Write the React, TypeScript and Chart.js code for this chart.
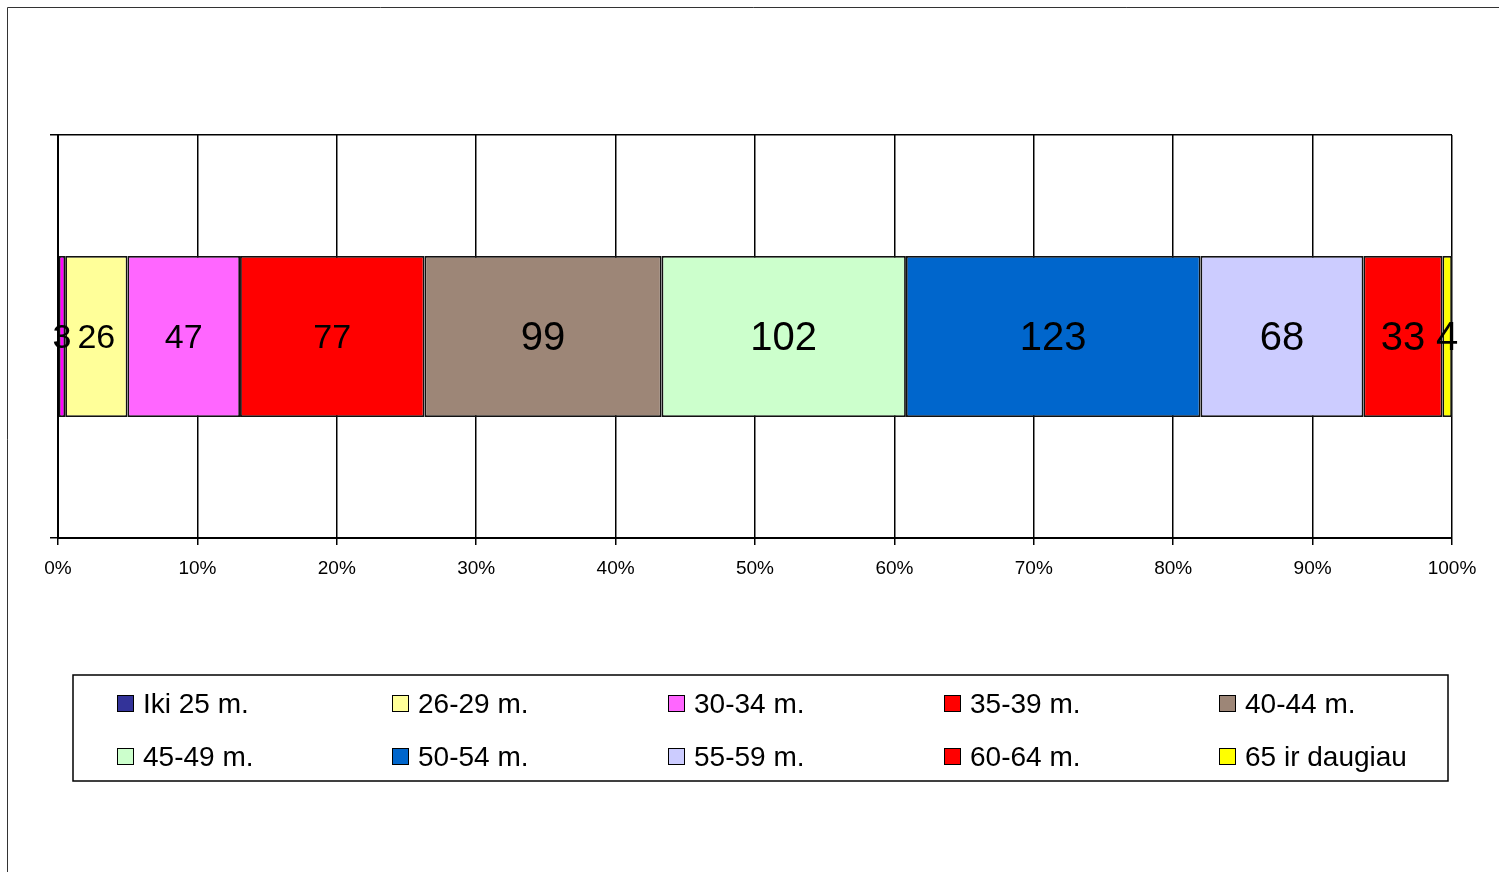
import React, { useEffect, useRef } from "react";
import { Chart, registerables } from "chart.js";

Chart.register(...registerables);

const seriesNames = [
  "Iki 25 m.",
  "26-29 m.",
  "30-34 m.",
  "35-39 m.",
  "40-44 m.",
  "45-49 m.",
  "50-54 m.",
  "55-59 m.",
  "60-64 m.",
  "65 ir daugiau",
];
const seriesValues = [3, 26, 47, 77, 99, 102, 123, 68, 33, 4];
const barColors = [
  "#FF00FF",
  "#FFFF99",
  "#FF66FF",
  "#FF0000",
  "#9D8677",
  "#CCFFCC",
  "#0066CC",
  "#CCCCFF",
  "#FF0000",
  "#FFFF00",
];
const legendColors = [
  "#333399",
  "#FFFF99",
  "#FF66FF",
  "#FF0000",
  "#9D8677",
  "#CCFFCC",
  "#0066CC",
  "#CCCCFF",
  "#FF0000",
  "#FFFF00",
];
const labelFontSizes = [34, 34, 34, 34, 40, 40, 40, 40, 40, 40];
const xTickValues = [0, 10, 20, 30, 40, 50, 60, 70, 80, 90, 100];

const FONT = '"Liberation Sans", Arial, sans-serif';

export default function App() {
  const ref = useRef<HTMLCanvasElement | null>(null);

  useEffect(() => {
    if (!ref.current) return;
    const total = seriesValues.reduce((a, b) => a + b, 0);

    const framePlugin = {
      id: "frame",
      beforeDraw(chart: any) {
        const ctx = chart.ctx;
        ctx.save();
        ctx.fillStyle = "#fff";
        ctx.fillRect(0, 0, chart.width, chart.height);
        ctx.strokeStyle = "#333";
        ctx.lineWidth = 1;
        ctx.beginPath();
        ctx.moveTo(7.5, chart.height);
        ctx.lineTo(7.5, 7.5);
        ctx.lineTo(chart.width, 7.5);
        ctx.stroke();
        ctx.restore();
      },
    };

    const labelPlugin = {
      id: "segLabels",
      afterDatasetsDraw(chart: any) {
        const ctx = chart.ctx;
        ctx.save();
        ctx.fillStyle = "#000";
        ctx.textAlign = "center";
        ctx.textBaseline = "middle";
        chart.data.datasets.forEach((ds: any, i: number) => {
          const meta = chart.getDatasetMeta(i);
          const el = meta.data[0];
          if (!el) return;
          const cx = (el.x + el.base) / 2;
          ctx.font = `${labelFontSizes[i]}px ${FONT}`;
          ctx.fillText(String(seriesValues[i]), cx, el.y + 2.5);
        });
        ctx.restore();
      },
    };

    const legendPlugin = {
      id: "customLegend",
      afterDraw(chart: any) {
        const ctx = chart.ctx;
        ctx.save();
        ctx.strokeStyle = "#000";
        ctx.lineWidth = 1.5;
        ctx.strokeRect(73, 675, 1375, 106);
        const colX = [117, 392, 668, 944, 1219];
        const rowY = [695, 748];
        ctx.font = `28px ${FONT}`;
        ctx.textAlign = "left";
        ctx.textBaseline = "alphabetic";
        seriesNames.forEach((name, i) => {
          const c = i % 5;
          const r = Math.floor(i / 5);
          const x = colX[c];
          const y = rowY[r];
          ctx.fillStyle = legendColors[i];
          ctx.fillRect(x + 0.5, y + 0.5, 16, 16);
          ctx.strokeStyle = "#000";
          ctx.lineWidth = 1;
          ctx.strokeRect(x + 0.5, y + 0.5, 16, 16);
          ctx.fillStyle = "#000";
          ctx.fillText(name, x + 26, y + 18);
        });
        ctx.restore();
      },
    };

    const chart = new Chart(ref.current, {
      type: "bar",
      data: {
        labels: [""],
        datasets: seriesNames.map((name, i) => ({
          label: name,
          data: [(seriesValues[i] / total) * 100],
          backgroundColor: barColors[i],
          borderColor: "#111",
          borderWidth: 1.8,
          borderSkipped: false,
          barPercentage: 0.4,
          categoryPercentage: 1,
        })),
      },
      options: {
        indexAxis: "y",
        responsive: false,
        animation: false,
        layout: { padding: { left: 50, right: 47, top: 135, bottom: 274 } },
        plugins: {
          legend: { display: false },
          tooltip: { enabled: false },
        },
        scales: {
          x: {
            stacked: true,
            min: 0,
            max: 100,
            afterFit(s: any) {
              s.height = 60;
            },
            afterBuildTicks(s: any) {
              s.ticks = xTickValues.map((v) => ({ value: v }));
            },
            ticks: {
              callback: (v: any) => `${v}%`,
              color: "#000",
              font: { family: FONT, size: 19 },
              padding: 12,
              maxRotation: 0,
              autoSkip: false,
            },
            grid: {
              color: "#000",
              lineWidth: 1.5,
              tickLength: 7,
              drawTicks: true,
            },
            border: { color: "#000", width: 2 },
          },
          y: {
            stacked: true,
            afterFit(s: any) {
              s.width = 8;
            },
            ticks: { display: false },
            grid: {
              offset: true,
              color: "#000",
              lineWidth: 1.5,
              tickLength: 8,
            },
            border: { color: "#000", width: 2 },
          },
        },
      },
      plugins: [framePlugin, labelPlugin, legendPlugin],
    } as any);

    return () => chart.destroy();
  }, []);

  return (
    <div style={{ position: "fixed", left: 0, top: 0, width: 1499, height: 872 }}>
      <canvas ref={ref} width={1499} height={872} style={{ display: "block" }} />
    </div>
  );
}
